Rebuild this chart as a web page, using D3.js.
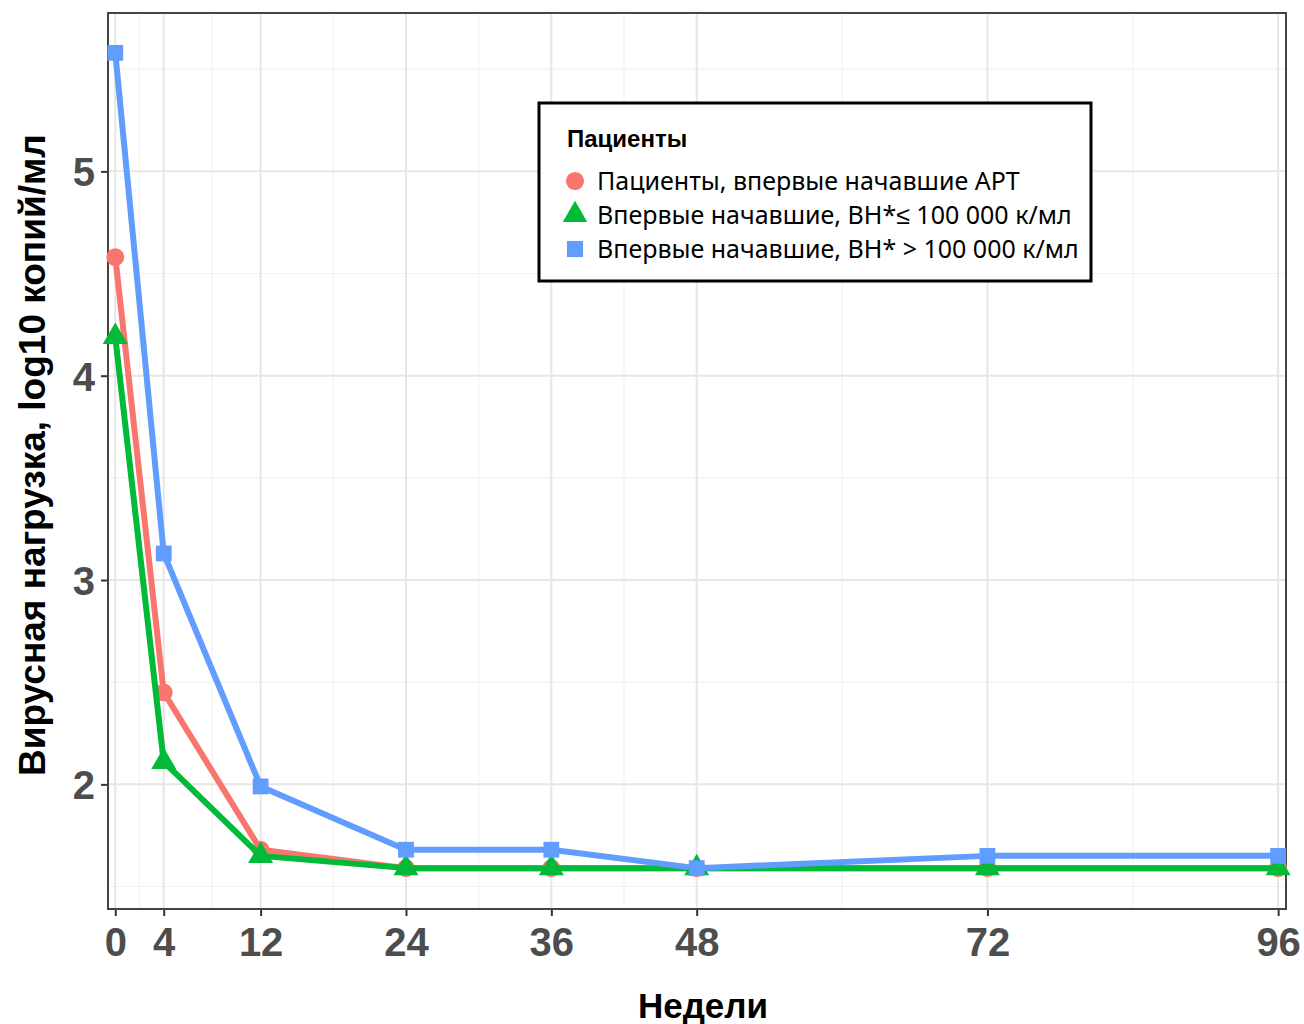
<!DOCTYPE html>
<html>
<head>
<meta charset="utf-8">
<script src="https://cdn.jsdelivr.net/npm/d3@7"></script>
<style>
  body { margin: 0; background: #fff; }
  svg { display: block; }
</style>
</head>
<body>
<div id="chart"></div>
<script>
// Weeks on the x axis
const weeks = [0, 4, 12, 24, 36, 48, 72, 96];
const xTicks = [0, 4, 12, 24, 36, 48, 72, 96];
const xMinor = [2, 8, 18, 30, 42, 60, 84];
const yTicks = [2, 3, 4, 5];
const yMinor = [1.5, 2.5, 3.5, 4.5, 5.5];

// Series values (log10 copies/ml)
const seriesNames = [
    "Пациенты, впервые начавшие АРТ",
    "Впервые начавшие, ВН*≤ 100 000 к/мл",
    "Впервые начавшие, ВН* > 100 000 к/мл"
];
const allNaive = [4.58, 2.45, 1.68, 1.59, 1.59, 1.59, 1.59, 1.59];
const lowVL = [4.19, 2.11, 1.65, 1.59, 1.59, 1.59, 1.59, 1.59];
const highVL = [5.58, 3.13, 1.99, 1.68, 1.68, 1.59, 1.65, 1.65];
const seriesColors = ["#F8766D", "#00BA38", "#619CFF"];
const seriesShapes = [d3.symbolCircle, d3.symbolTriangle, d3.symbolSquare];

const W = 1304, H = 1024;
const margin = { top: 13, right: 18, bottom: 115, left: 108 };
const width = W - margin.left - margin.right;
const height = H - margin.top - margin.bottom;

const svg = d3.select("#chart").append("svg")
    .attr("width", W)
    .attr("height", H);

const g = svg.append("g")
    .attr("transform", `translate(${margin.left},${margin.top})`);

const x = d3.scaleLinear()
    .domain([-0.6, 96.65])
    .range([0, width]);

const y = d3.scaleLinear()
    .domain([1.39, 5.775])
    .range([height, 0]);

// Grid lines (minor first, then major)
g.selectAll(".xminor").data(xMinor).enter().append("line")
    .attr("x1", d => x(d)).attr("x2", d => x(d))
    .attr("y1", 0).attr("y2", height)
    .attr("stroke", "#f2f2f2").attr("stroke-width", 1.2);
g.selectAll(".yminor").data(yMinor).enter().append("line")
    .attr("x1", 0).attr("x2", width)
    .attr("y1", d => y(d)).attr("y2", d => y(d))
    .attr("stroke", "#f2f2f2").attr("stroke-width", 1.2);
g.selectAll(".xmajor").data(xTicks).enter().append("line")
    .attr("x1", d => x(d)).attr("x2", d => x(d))
    .attr("y1", 0).attr("y2", height)
    .attr("stroke", "#e6e6e6").attr("stroke-width", 2);
g.selectAll(".ymajor").data(yTicks).enter().append("line")
    .attr("x1", 0).attr("x2", width)
    .attr("y1", d => y(d)).attr("y2", d => y(d))
    .attr("stroke", "#e6e6e6").attr("stroke-width", 2);

// Axes
const xAxis = g.append("g")
    .attr("transform", `translate(0,${height})`)
    .call(d3.axisBottom(x).tickValues(xTicks).tickSize(7).tickPadding(12).tickFormat(d3.format("d")));
const yAxis = g.append("g")
    .call(d3.axisLeft(y).tickValues(yTicks).tickSize(7).tickPadding(6).tickFormat(d3.format("d")));

[xAxis, yAxis].forEach(ax => {
    ax.select(".domain").remove();
    ax.selectAll(".tick line").attr("stroke", "#333").attr("stroke-width", 2);
    ax.selectAll(".tick text")
        .attr("fill", "#4d4d4d")
        .style("font-family", "'Liberation Sans', Arial, sans-serif")
        .style("font-weight", "bold")
        .style("font-size", "40px");
});
xAxis.selectAll(".tick text").attr("dy", "0.71em");
yAxis.selectAll(".tick text").attr("dy", "0.36em");

// Panel border
g.append("rect")
    .attr("x", 0).attr("y", 0)
    .attr("width", width).attr("height", height)
    .attr("fill", "none")
    .attr("stroke", "#444").attr("stroke-width", 2);

// Lines and points
const seriesData = [allNaive, lowVL, highVL];
const line = d3.line()
    .x((d, i) => x(weeks[i]))
    .y(d => y(d));

seriesData.forEach((vals, s) => {
    g.append("path")
        .datum(vals)
        .attr("d", line)
        .attr("fill", "none")
        .attr("stroke", seriesColors[s])
        .attr("stroke-width", 6)
        .attr("stroke-linejoin", "round");
    const sym = d3.symbol().type(seriesShapes[s]).size(s === 1 ? 270 : 250);
    g.selectAll(".pt" + s).data(vals).enter().append("path")
        .attr("d", sym)
        .attr("transform", (d, i) => `translate(${x(weeks[i])},${y(d)})`)
        .attr("fill", seriesColors[s]);
});

// Legend
const legend = svg.append("g").attr("transform", "translate(539,103)");
legend.append("rect")
    .attr("width", 552).attr("height", 178)
    .attr("fill", "#fff")
    .attr("stroke", "#000").attr("stroke-width", 3);
legend.append("text")
    .attr("x", 28).attr("y", 44)
    .text("Пациенты")
    .style("font-family", "'Liberation Sans', Arial, sans-serif")
    .style("font-weight", "bold")
    .style("font-size", "24px")
    .attr("fill", "#000");
seriesNames.forEach((name, s) => {
    const cy = 78 + s * 34;
    legend.append("path")
        .attr("d", d3.symbol().type(seriesShapes[s]).size(260)())
        .attr("transform", `translate(36,${cy})`)
        .attr("fill", seriesColors[s]);
    legend.append("text")
        .attr("x", 58).attr("y", cy)
        .attr("dy", "0.35em")
        .text(name)
        .style("font-family", "'Noto Sans', sans-serif")
        .style("font-size", "25px")
        .attr("fill", "#000");
});

// Axis titles
svg.append("text")
    .attr("x", 703).attr("y", 1018)
    .attr("text-anchor", "middle")
    .text("Недели")
    .style("font-family", "'Liberation Sans', Arial, sans-serif")
    .style("font-weight", "bold")
    .style("font-size", "35px")
    .attr("fill", "#000");
svg.append("text")
    .attr("transform", "translate(45,455) rotate(-90)")
    .attr("text-anchor", "middle")
    .text("Вирусная нагрузка, log10 копий/мл")
    .style("font-family", "'Liberation Sans', Arial, sans-serif")
    .style("font-weight", "bold")
    .style("font-size", "37px")
    .attr("fill", "#000");
</script>
</body>
</html>
